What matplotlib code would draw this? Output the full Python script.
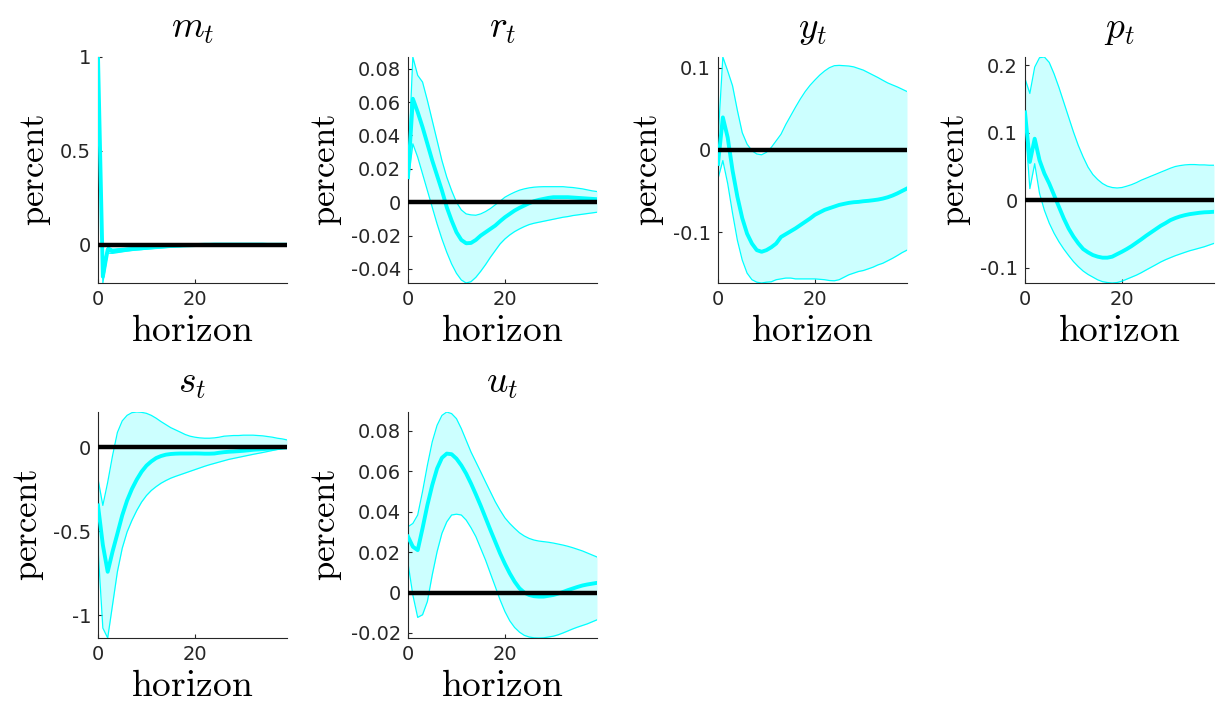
import numpy as np
import matplotlib
matplotlib.use("Agg")
import matplotlib.pyplot as plt

plt.rcParams['mathtext.fontset'] = 'cm'
plt.rcParams['font.family'] = ['DejaVu Sans']

horizon = np.arange(40)

titles = [r'$m_t$', r'$r_t$', r'$y_t$', r'$p_t$', r'$s_t$', r'$u_t$']

m_med = [1.0, -0.17, -0.025, -0.035, -0.032, -0.029, -0.026, -0.023, -0.021, -0.019, -0.017, -0.015, -0.013, -0.011, -0.009, -0.007, -0.006, -0.005, -0.004, -0.003, -0.002, -0.001, 0.0, 0.0, 0.001, 0.001, 0.001, 0.001, 0.001, 0.001, 0.001, 0.001, 0.001, 0.001, 0.001, 0.0, 0.0, 0.0, 0.0, 0.0]
m_hi = [1.0, -0.12, -0.012, -0.024, -0.022, -0.02, -0.018, -0.016, -0.014, -0.012, -0.01, -0.009, -0.007, -0.006, -0.004, -0.003, -0.002, -0.001, 0.0, 0.001, 0.002, 0.003, 0.003, 0.004, 0.004, 0.004, 0.004, 0.004, 0.004, 0.003, 0.003, 0.003, 0.003, 0.002, 0.002, 0.002, 0.002, 0.002, 0.001, 0.001]
m_lo = [1.0, -0.204, -0.045, -0.046, -0.042, -0.038, -0.034, -0.031, -0.028, -0.026, -0.023, -0.021, -0.019, -0.017, -0.015, -0.013, -0.011, -0.01, -0.008, -0.007, -0.006, -0.005, -0.004, -0.003, -0.003, -0.002, -0.002, -0.002, -0.001, -0.001, -0.001, -0.001, -0.001, -0.001, -0.001, -0.001, -0.001, -0.001, -0.001, -0.001]

r_med = [0.015, 0.062, 0.054, 0.045, 0.035, 0.025, 0.016, 0.007, -0.003, -0.011, -0.018, -0.0226, -0.0246, -0.0244, -0.0226, -0.020, -0.018, -0.016, -0.014, -0.0114, -0.009, -0.007, -0.005, -0.0034, -0.002, -0.0006, 0.0006, 0.0014, 0.002, 0.0026, 0.003, 0.003, 0.003, 0.003, 0.0028, 0.0026, 0.0024, 0.0022, 0.002, 0.0018]
r_hi = [0.02, 0.087, 0.076, 0.072, 0.061, 0.049, 0.037, 0.025, 0.015, 0.007, 0.0, -0.0046, -0.007, -0.0076, -0.0078, -0.007, -0.0056, -0.0038, -0.0016, 0.0006, 0.003, 0.0046, 0.006, 0.0072, 0.008, 0.0086, 0.009, 0.0092, 0.0093, 0.0093, 0.0093, 0.0093, 0.0093, 0.009, 0.0088, 0.0084, 0.008, 0.0074, 0.0068, 0.0064]
r_lo = [0.011, 0.035, 0.027, 0.017, 0.007, -0.003, -0.013, -0.022, -0.030, -0.037, -0.0426, -0.0466, -0.0484, -0.0476, -0.045, -0.0414, -0.0374, -0.033, -0.029, -0.025, -0.022, -0.0196, -0.0176, -0.016, -0.0146, -0.0134, -0.0126, -0.012, -0.0114, -0.0108, -0.0102, -0.0096, -0.009, -0.0086, -0.008, -0.0076, -0.0072, -0.0068, -0.0064, -0.006]

y_med = [-0.017, 0.0395, 0.015, -0.025, -0.057, -0.083, -0.102, -0.114, -0.122, -0.124, -0.122, -0.1185, -0.114, -0.106, -0.1025, -0.099, -0.0955, -0.0915, -0.0875, -0.0835, -0.079, -0.076, -0.073, -0.071, -0.069, -0.067, -0.0657, -0.0645, -0.0637, -0.0633, -0.0625, -0.062, -0.0613, -0.0605, -0.0593, -0.0577, -0.0556, -0.053, -0.050, -0.047]
y_hi = [0.012, 0.113, 0.096, 0.078, 0.048, 0.021, 0.007, -0.001, -0.005, -0.006, -0.003, 0.003, 0.011, 0.019, 0.031, 0.0415, 0.052, 0.062, 0.071, 0.0786, 0.085, 0.091, 0.096, 0.100, 0.1024, 0.1028, 0.1024, 0.102, 0.101, 0.099, 0.097, 0.094, 0.091, 0.088, 0.0847, 0.0815, 0.079, 0.0766, 0.0738, 0.071]
y_lo = [-0.035, -0.013, -0.041, -0.077, -0.11, -0.134, -0.15, -0.158, -0.161, -0.162, -0.161, -0.1605, -0.158, -0.157, -0.156, -0.156, -0.157, -0.157, -0.157, -0.157, -0.157, -0.1575, -0.158, -0.159, -0.1593, -0.158, -0.155, -0.152, -0.150, -0.148, -0.1468, -0.1448, -0.1427, -0.140, -0.138, -0.135, -0.132, -0.1286, -0.125, -0.122]

p_med = [0.130, 0.0566, 0.091, 0.059, 0.0394, 0.0246, 0.0074, -0.0099, -0.027, -0.042, -0.054, -0.064, -0.0724, -0.0773, -0.0813, -0.0837, -0.0852, -0.0852, -0.0837, -0.080, -0.0764, -0.0724, -0.068, -0.063, -0.058, -0.0527, -0.0478, -0.0429, -0.038, -0.034, -0.0296, -0.0266, -0.0241, -0.0222, -0.0207, -0.0197, -0.0187, -0.018, -0.0177, -0.0172]
p_hi = [0.18, 0.158, 0.197, 0.211, 0.212, 0.204, 0.187, 0.167, 0.145, 0.123, 0.101, 0.081, 0.064, 0.049, 0.038, 0.0305, 0.0246, 0.0207, 0.0187, 0.018, 0.0187, 0.0207, 0.023, 0.026, 0.0296, 0.0325, 0.0355, 0.0384, 0.0414, 0.0443, 0.0473, 0.0498, 0.0512, 0.0522, 0.0527, 0.0527, 0.0522, 0.0522, 0.0517, 0.0517]
p_lo = [0.115, 0.017, 0.054, 0.01, -0.015, -0.034, -0.049, -0.0616, -0.0724, -0.082, -0.091, -0.0985, -0.105, -0.11, -0.114, -0.118, -0.1207, -0.122, -0.1227, -0.122, -0.12, -0.117, -0.114, -0.111, -0.1074, -0.1034, -0.0995, -0.0956, -0.0916, -0.0882, -0.0852, -0.0823, -0.0798, -0.0773, -0.0749, -0.073, -0.071, -0.069, -0.0665, -0.064]

s_med = [-0.345, -0.58, -0.74, -0.62, -0.513, -0.404, -0.316, -0.247, -0.191, -0.144, -0.108, -0.083, -0.063, -0.051, -0.043, -0.039, -0.037, -0.036, -0.036, -0.036, -0.0355, -0.036, -0.037, -0.037, -0.036, -0.0316, -0.028, -0.0256, -0.024, -0.022, -0.0197, -0.017, -0.0138, -0.012, -0.010, -0.008, -0.006, -0.004, -0.002, 0.0]
s_hi = [-0.187, -0.345, -0.207, -0.049, 0.089, 0.158, 0.191, 0.207, 0.211, 0.209, 0.203, 0.191, 0.174, 0.154, 0.136, 0.118, 0.1045, 0.091, 0.077, 0.067, 0.061, 0.057, 0.055, 0.055, 0.057, 0.061, 0.067, 0.069, 0.071, 0.071, 0.073, 0.073, 0.073, 0.071, 0.069, 0.065, 0.061, 0.055, 0.051, 0.045]
s_lo = [-0.6, -1.075, -1.134, -0.937, -0.74, -0.6, -0.503, -0.434, -0.375, -0.325, -0.286, -0.256, -0.233, -0.213, -0.197, -0.183, -0.172, -0.162, -0.152, -0.142, -0.132, -0.122, -0.112, -0.103, -0.095, -0.087, -0.079, -0.071, -0.065, -0.059, -0.053, -0.047, -0.041, -0.0355, -0.03, -0.024, -0.018, -0.012, -0.006, -0.002]

u_med = [0.0277, 0.0227, 0.021, 0.0318, 0.0433, 0.0532, 0.0614, 0.0667, 0.0688, 0.0685, 0.0663, 0.063, 0.0589, 0.054, 0.0486, 0.043, 0.037, 0.031, 0.0252, 0.0194, 0.0142, 0.0095, 0.0054, 0.0021, 0.0, -0.0012, -0.0018, -0.002, -0.002, -0.0016, -0.0012, -0.0005, 0.0003, 0.0012, 0.002, 0.0028, 0.0035, 0.004, 0.0044, 0.0048]
u_hi = [0.0326, 0.0342, 0.0384, 0.05, 0.063, 0.0746, 0.0828, 0.0877, 0.0894, 0.0886, 0.0861, 0.0812, 0.0754, 0.0696, 0.0647, 0.0598, 0.0548, 0.0499, 0.045, 0.0408, 0.037, 0.0342, 0.0318, 0.0296, 0.028, 0.0268, 0.026, 0.0255, 0.0252, 0.0249, 0.0245, 0.024, 0.0235, 0.0229, 0.0222, 0.0214, 0.0206, 0.0196, 0.0186, 0.0176]
u_lo = [0.0145, -0.0012, -0.0123, -0.011, -0.0044, 0.0087, 0.0202, 0.0293, 0.035, 0.0384, 0.0388, 0.0384, 0.0359, 0.0321, 0.0277, 0.0219, 0.0161, 0.0095, 0.003, -0.0036, -0.0094, -0.014, -0.0173, -0.0196, -0.0212, -0.022, -0.0224, -0.0225, -0.0224, -0.022, -0.0216, -0.0209, -0.02, -0.019, -0.018, -0.0171, -0.0163, -0.0155, -0.0145, -0.0135]

yticks_list = [
    [0, 0.5, 1],
    [-0.04, -0.02, 0, 0.02, 0.04, 0.06, 0.08],
    [-0.1, 0, 0.1],
    [-0.1, 0, 0.1, 0.2],
    [-1, -0.5, 0],
    [-0.02, 0, 0.02, 0.04, 0.06, 0.08],
]
xticks = [0, 20]

series = [
    (m_med, m_hi, m_lo),
    (r_med, r_hi, r_lo),
    (y_med, y_hi, y_lo),
    (p_med, p_hi, p_lo),
    (s_med, s_hi, s_lo),
    (u_med, u_hi, u_lo),
]

W, H = 1221, 707
fig = plt.figure(figsize=(W / 100, H / 100), dpi=100)

lefts = [98, 408, 718, 1025]
tops = [57, 412]
aw, ah = 189, 226

axis_col = '#262626'
cyan = '#00FFFF'
fill_c = '#CCFFFF'

for i, (med, hi, lo) in enumerate(series):
    r, c = divmod(i, 4)
    l = lefts[c]
    t = tops[r]
    ax = fig.add_axes([l / W, 1 - (t + ah) / H, aw / W, ah / H])
    ax.fill_between(horizon, lo, hi, color=fill_c, linewidth=0, zorder=1)
    ax.plot(horizon, hi, color=cyan, lw=0.9, zorder=2)
    ax.plot(horizon, lo, color=cyan, lw=0.9, zorder=2)
    ax.plot(horizon, med, color=cyan, lw=2.8, zorder=3)
    ax.axhline(0, color='black', lw=3.2, zorder=4)
    ax.set_xlim(horizon[0], horizon[-1])
    ax.set_ylim(min(lo), max(hi))
    ax.set_xticks(xticks)
    ax.set_yticks(yticks_list[i])
    ax.set_yticklabels(['%g' % v for v in yticks_list[i]])
    for side in ['top', 'right']:
        ax.spines[side].set_visible(False)
    for side in ['left', 'bottom']:
        ax.spines[side].set_color(axis_col)
        ax.spines[side].set_linewidth(0.8)
    ax.tick_params(direction='in', length=3, width=0.8, colors=axis_col,
                   labelsize=14, pad=5)
    ax.set_title(titles[i], fontsize=27, pad=14)
    ax.set_xlabel(r'$\mathrm{horizon}$', fontsize=27, labelpad=3)
    ax.set_ylabel(r'$\mathrm{percent}$', fontsize=25, labelpad=5)

fig.savefig('out.png', dpi=100, facecolor='white')
